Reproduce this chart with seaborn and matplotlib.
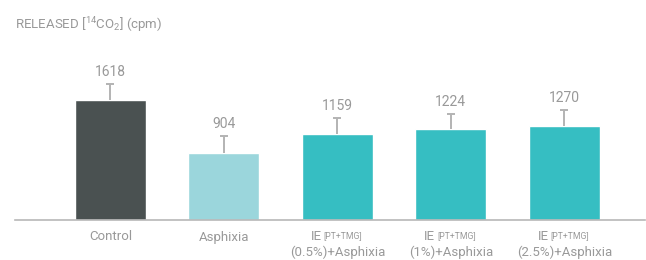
import matplotlib
matplotlib.use("Agg")
import matplotlib.pyplot as plt
import matplotlib.transforms as mtransforms
import seaborn as sns
import pandas as pd

categories = ["Control", "Asphixia", "IE 0.5%", "IE 1%", "IE 2.5%"]
values = [1618, 904, 1159, 1224, 1270]
errors = [230, 230, 225, 210, 215]
colors = ["#4a5151", "#9bd6dc", "#36bec2", "#36bec2", "#36bec2"]
label_line1 = ["Control", "Asphixia", "IE", "IE", "IE"]
label_sub = ["", "", "[PT+TMG]", "[PT+TMG]", "[PT+TMG]"]
label_line2 = ["", "", "(0.5%)+Asphixia", "(1%)+Asphixia", "(2.5%)+Asphixia"]

sns.set_theme(style="white")
plt.rcParams["font.family"] = ["Roboto", "DejaVu Sans"]
plt.rcParams["mathtext.fontset"] = "custom"
plt.rcParams["mathtext.rm"] = "Roboto"
plt.rcParams["mathtext.it"] = "Roboto"

TXT = "#999999"
df = pd.DataFrame({"cat": categories, "val": values})

fig = plt.figure(figsize=(6.46, 2.6), dpi=100)
ax = fig.add_axes([15/646, 40.5/260, 630/646, 180/260])
sns.barplot(data=df, x="cat", y="val", hue="cat", palette=colors, legend=False,
            width=0.625, ax=ax, saturation=1)
xs = list(range(len(categories)))
tops = [v + e for v, e in zip(values, errors)]
ax.vlines(xs, values, tops, color="#b3b3b3", linewidth=1.4, zorder=3)
ax.plot(xs, tops, linestyle="none", marker="_", markersize=6, mew=1.4,
        color="#b3b3b3", zorder=3)
for x, t, v in zip(xs, tops, values):
    ax.annotate(str(v), (x, t), xytext=(0, 3.5), textcoords="offset points",
                ha="center", va="bottom", fontsize=10, color=TXT)

ax.set_xlim(-0.84, 4.71)
ax.set_ylim(0, 2447)
ax.set_xticks([])
ax.set_yticks([])
ax.set_xlabel("")
ax.set_ylabel("")
for s in ["top", "right", "left"]:
    ax.spines[s].set_visible(False)
ax.spines["bottom"].set_color("#b8b8b8")
ax.spines["bottom"].set_linewidth(1.2)

trans = mtransforms.blended_transform_factory(ax.transData, fig.transFigure)
for x, l1, sub, l2 in zip(xs, label_line1, label_sub, label_line2):
    if not sub:
        ax.text(x, 1 - 237/260, l1, transform=trans, ha="center", va="center",
                fontsize=9.5, color=TXT)
    else:
        t1 = mtransforms.offset_copy(trans, fig=fig, x=-16, y=0, units="dots")
        ax.text(x, 1 - 236/260, l1, transform=t1, ha="right", va="center",
                fontsize=9.5, color=TXT)
        t2 = mtransforms.offset_copy(trans, fig=fig, x=-14, y=0, units="dots")
        ax.text(x, 1 - 236/260, sub, transform=t2, ha="left", va="center",
                fontsize=6.2, color=TXT)
        ax.text(x, 1 - 252/260, l2, transform=trans, ha="center", va="center",
                fontsize=9.5, color=TXT)

fig.text(15/646, 1 - 25/260, r"RELEASED [$^{14}$CO$_{2}$] (cpm)", ha="left",
         va="center", fontsize=9.5, color=TXT)

fig.savefig("out.png", dpi=100)
